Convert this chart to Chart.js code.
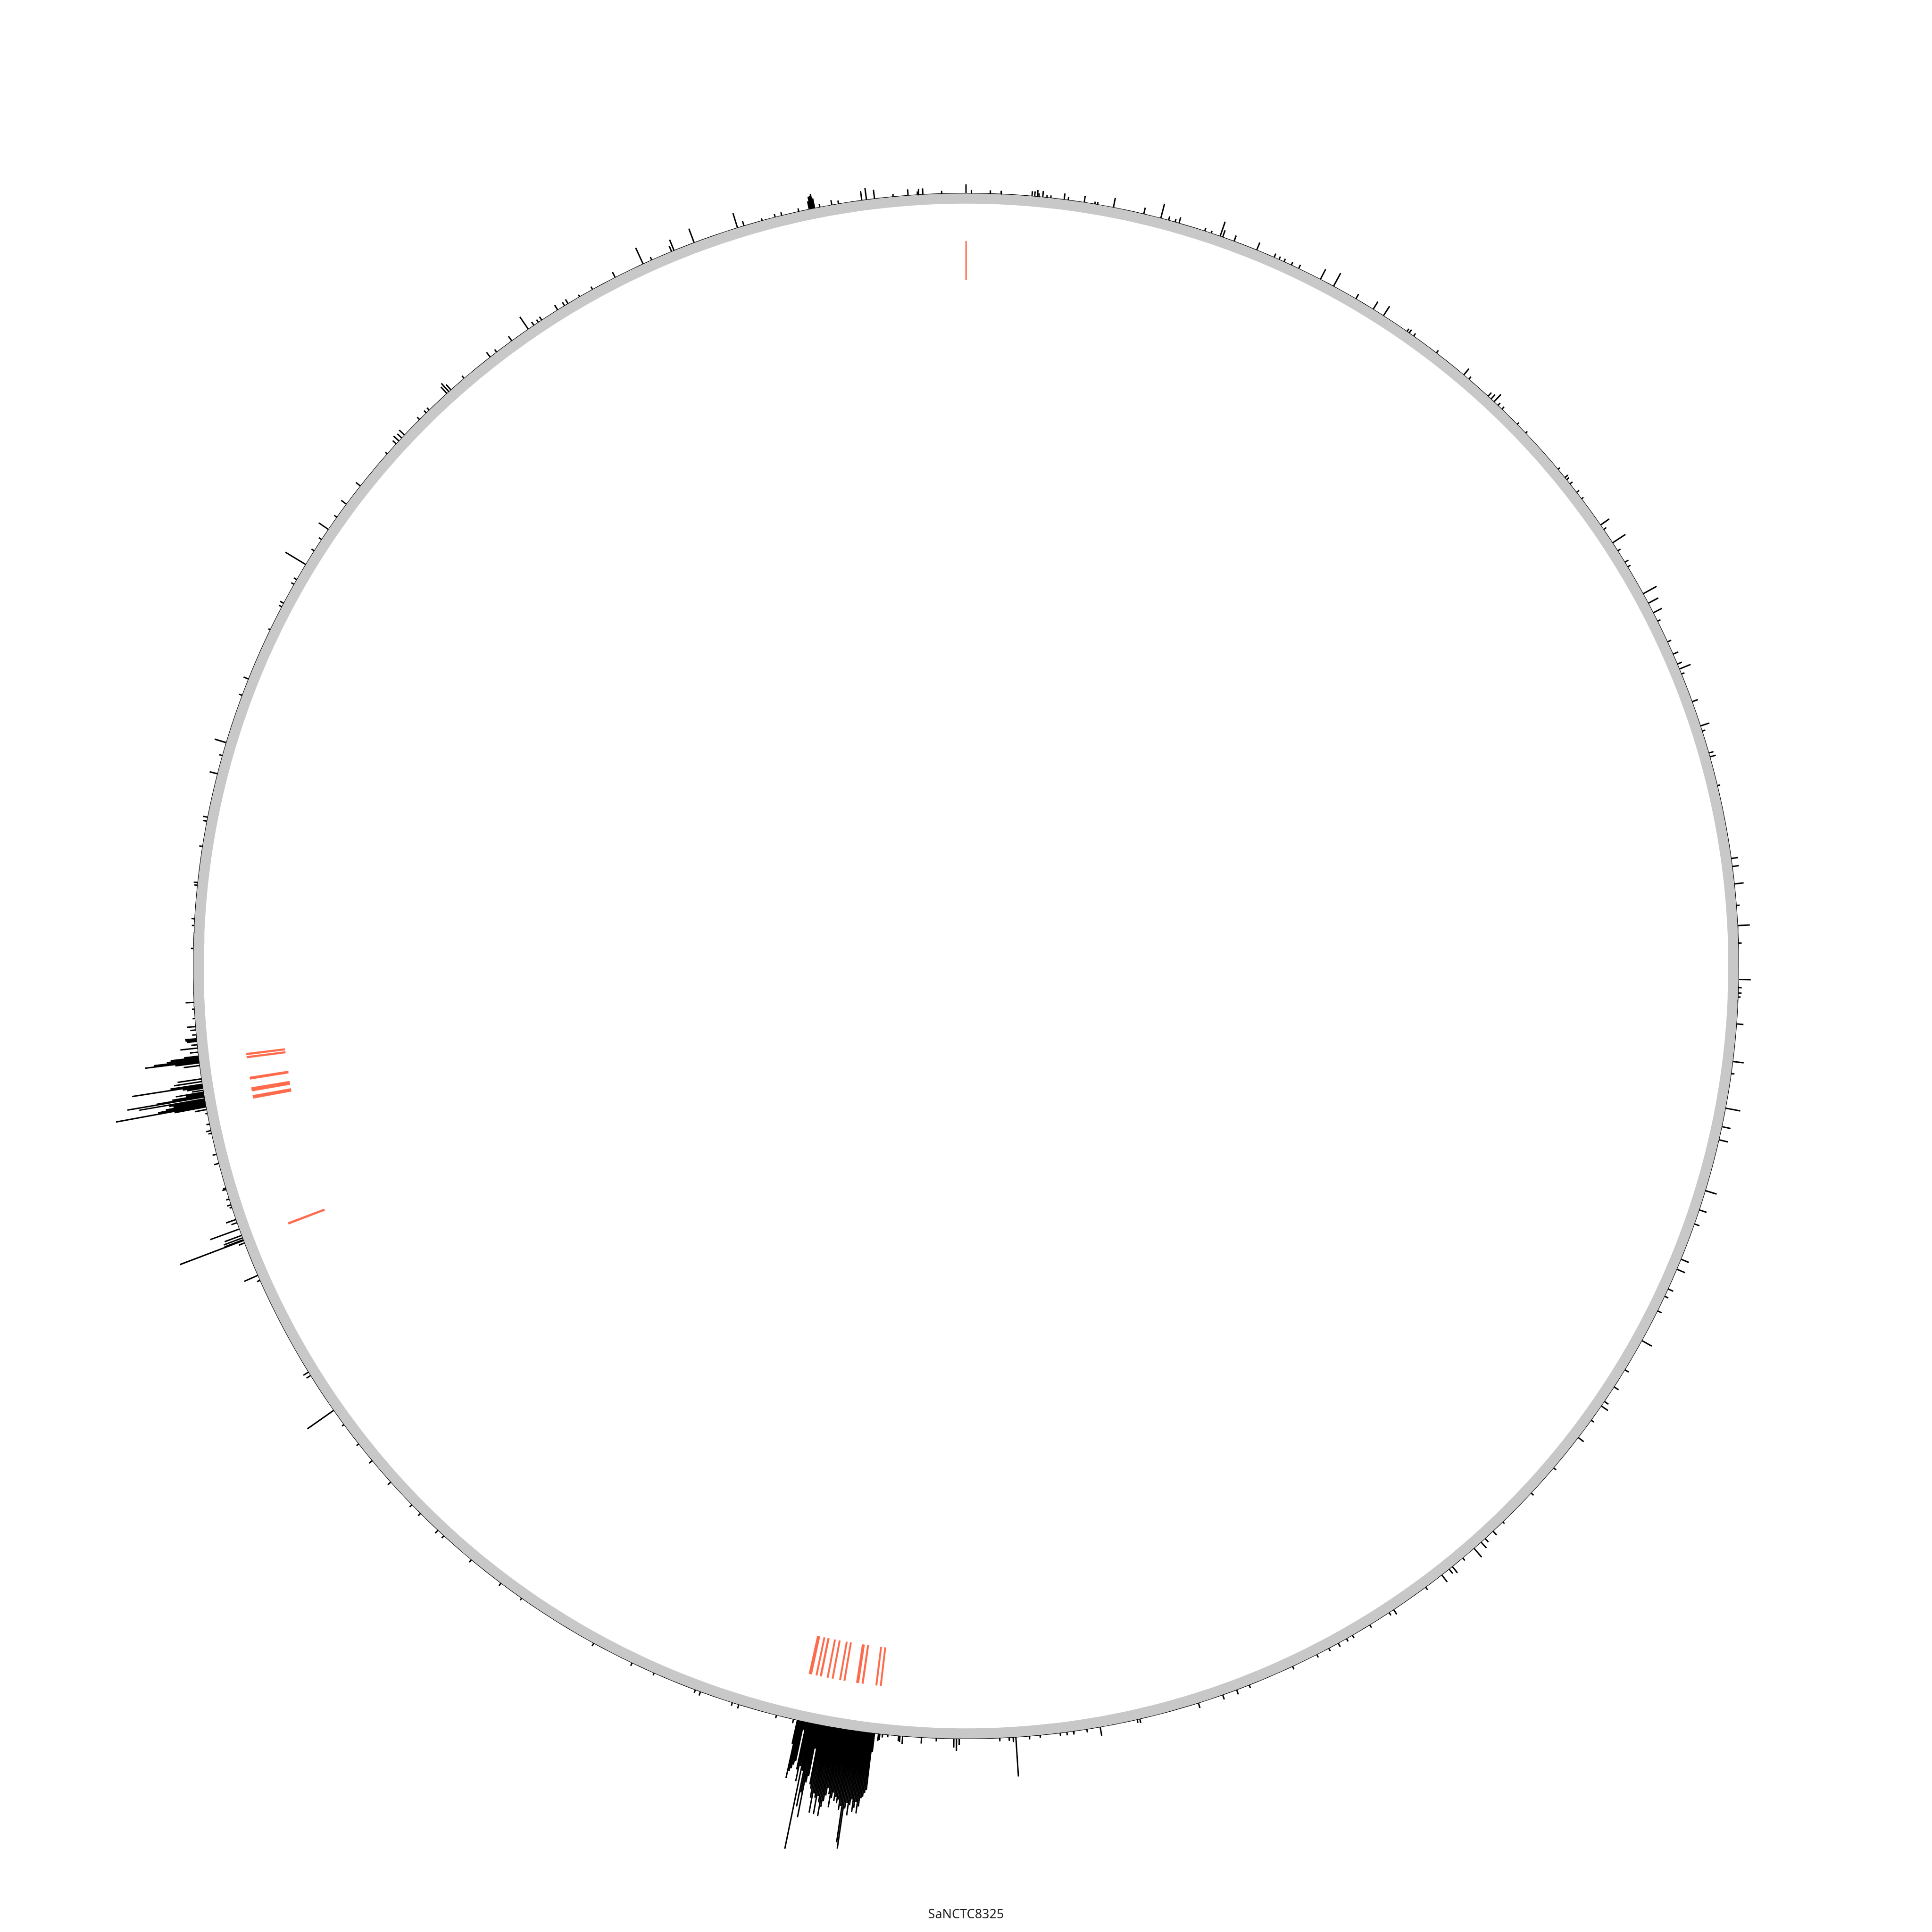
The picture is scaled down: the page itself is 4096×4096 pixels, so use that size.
<!DOCTYPE html>
<html>
<head>
<meta charset="utf-8">
<script src="https://cdn.jsdelivr.net/npm/chart.js@4.4.1/dist/chart.umd.min.js"></script>
<style>
  html, body { margin: 0; padding: 0; background: #ffffff; }
  #c { display: block; }
</style>
</head>
<body>
<canvas id="c" width="4096" height="4096"></canvas>
<script>
// ---------------- DATA ----------------
const CHROMOSOME = 'SaNCTC8325';

// Signal track (outer histogram): position on the circular map (degrees, clockwise from top) and value
const SIG_A_POS = [0.0, 0.4, 1.8, 2.6, 4.9, 5.1, 5.3, 5.4, 5.7, 6.0, 6.3, 7.3, 7.6, 8.8, 9.6, 9.8, 11.0, 13.3, 14.6, 15.2, 15.7, 16.0, 18.0, 18.5, 19.2, 19.4, 20.3, 22.1, 23.5, 23.9, 24.3, 24.9, 25.5, 27.3, 28.4, 30.3, 31.8, 32.7, 34.8, 35.0, 35.4, 37.5, 40.1, 40.6, 42.5, 42.8, 43.1, 43.5, 43.9, 45.5, 46.4, 50.0, 50.8, 51.0, 51.4, 52.2, 52.8, 55.2, 55.6, 56.8, 57.5, 58.5, 58.9, 61.2, 62.0];
const SIG_A_VAL = [22, 8, 8, 8, 12, 12, 16, 8, 15, 6, 6, 15, 8, 16, 6, 6, 24, 16, 37, 10, 8, 15, 8, 6, 38, 18, 15, 20, 10, 8, 8, 8, 10, 28, 37, 13, 22, 28, 8, 10, 8, 8, 20, 8, 12, 15, 25, 8, 8, 6, 6, 6, 10, 8, 8, 8, 6, 26, 8, 38, 8, 10, 8, 38, 28];

const SIG_B_POS = [62.8, 63.5, 65.2, 66.2, 67.0, 67.4, 67.8, 70.0, 71.9, 72.3, 74.0, 74.3, 76.5, 82.0, 82.6, 83.9, 85.5, 87.0, 88.3, 91.0, 91.6, 92.0, 92.3, 94.3, 97.1, 98.0, 100.6, 102.0, 103.0, 106.9, 108.4, 109.5, 112.3, 113.1, 114.7, 115.3, 116.5, 119.0, 121.5, 123.0, 124.3, 124.7, 126.0, 127.6];
const SIG_B_VAL = [24, 8, 10, 14, 12, 30, 8, 15, 23, 8, 12, 15, 7, 17, 16, 23, 8, 30, 8, 30, 8, 8, 6, 17, 27, 8, 37, 22, 23, 29, 19, 13, 21, 22, 14, 10, 11, 28, 11, 13, 12, 20, 8, 17];

const SIG_C_POS = [130.5, 133.0, 136.0, 137.0, 137.8, 138.2, 138.9, 140.0, 141.0, 141.3, 142.0, 143.5, 146.4, 146.8, 148.5, 150.0, 150.5, 151.2, 152.0, 153.0, 155.0, 158.5, 159.5, 160.6, 162.5, 167.0, 167.2, 170.0, 171.0, 172.0, 172.5, 173.0, 174.5, 175.3, 176.3, 176.5, 176.8, 177.5, 180.5, 180.7, 180.9, 182.2, 183.3, 184.7, 184.9, 185.0, 185.8, 186.2, 186.4, 186.5];
const SIG_C_VAL = [8, 8, 6, 13, 12, 20, 29, 8, 20, 14, 22, 8, 14, 8, 8, 8, 8, 10, 8, 8, 8, 8, 12, 12, 13, 10, 8, 22, 8, 8, 8, 8, 6, 8, 98, 12, 8, 8, 15, 30, 22, 8, 15, 20, 15, 13, 6, 8, 15, 18];

const SIG_D_POS = [186.8, 186.9, 187.0, 187.1, 187.2, 187.3, 187.4, 187.5, 187.6, 187.7, 187.8, 187.9, 188.0, 188.1, 188.2, 188.3, 188.4, 188.5, 188.6, 188.7, 188.8, 188.9, 189.0, 189.1, 189.2, 189.3, 189.4, 189.5, 189.6, 189.7, 189.8, 189.9, 190.0, 190.1, 190.2, 190.3, 190.4, 190.5, 190.6, 190.7, 190.8, 190.9, 191.0, 191.1, 191.2, 191.3, 191.4, 191.5, 191.6, 191.7, 191.8, 191.9, 192.0, 192.1, 192.2, 192.3, 192.4, 192.5, 192.6];
const SIG_D_VAL = [47, 142, 150, 160, 164, 185, 203, 175, 190, 201, 170, 185, 211, 180, 195, 296, 281, 190, 201, 175, 185, 170, 180, 160, 174, 198, 165, 150, 170, 185, 200, 224, 190, 175, 221, 180, 170, 219, 182, 160, 150, 60, 130, 147, 236, 174, 210, 120, 319, 110, 149, 120, 20, 100, 110, 120, 128, 146, 60];

const SIG_E_POS = [192.9, 194.2, 197.1, 197.6, 200.1, 200.5, 203.8, 205.6, 208.8, 215.1, 217.0, 219.8, 222.5, 223.1, 224.9, 225.8, 228.1, 230.2, 231.8, 233.6, 234.9, 238.0, 238.3, 246.0, 246.4];
const SIG_E_VAL = [10, 8, 10, 8, 10, 8, 6, 8, 8, 6, 8, 8, 8, 10, 8, 8, 10, 10, 7, 6, 80, 12, 15, 8, 37];

const SIG_F_POS = [249.0, 249.2, 249.25, 249.4, 249.6, 250.1, 250.6, 250.85, 251.8, 252.0, 252.45, 253.2, 253.3, 255.2, 255.9, 257.5, 257.7, 258.2, 259.0, 259.3, 259.5, 259.6, 259.7, 259.8, 259.9, 260.0, 260.1, 260.25, 260.3, 260.4, 260.5, 260.6, 260.75, 260.9, 261.0, 261.1, 261.2, 261.4, 261.6, 262.6, 262.8, 262.9, 263.0, 263.1, 263.2, 263.3, 263.6, 263.9, 264.15, 264.4, 264.5, 264.6, 264.9, 265.25, 265.5, 266.1, 266.8, 267.3];
const SIG_F_VAL = [15, 169, 50, 50, 45, 77, 15, 26, 6, 10, 8, 10, 7, 12, 10, 8, 12, 8, 5, 30, 80, 227, 120, 100, 80, 90, 165, 194, 120, 80, 45, 70, 28, 40, 50, 177, 80, 70, 60, 40, 60, 135, 113, 80, 70, 36, 20, 43, 15, 25, 28, 29, 10, 14, 22, 6, 6, 21];

const SIG_G_POS = [271.3, 273.0, 273.5, 276.0, 276.2, 278.9, 280.8, 281.1, 284.4, 285.8, 286.8, 290.5, 291.8, 295.8, 297.7, 298.0, 299.6, 300.0, 301.3, 302.5, 303.5, 304.4, 305.5, 306.7, 308.4, 311.5, 312.5, 312.8, 313.1, 313.4, 315.0, 315.7, 316.0, 317.8, 318.0, 318.2, 319.5, 322.0, 322.6, 324.0, 325.5, 326.0, 326.4, 326.7, 328.1, 328.7, 329.0, 330.0, 331.1, 333.0, 335.3, 336.0, 337.6, 337.8, 339.4, 342.8, 343.3, 344.7, 345.7, 346.2, 347.5, 348.3, 348.4, 348.5, 348.6, 348.7, 349.1, 350.0, 350.5, 352.25, 352.6, 353.2, 354.6, 355.7, 356.4, 356.5, 356.8, 358.2];
const SIG_G_VAL = [6, 6, 8, 8, 10, 8, 10, 12, 20, 8, 30, 8, 13, 5, 8, 10, 8, 8, 59, 8, 8, 29, 8, 16, 14, 6, 12, 18, 15, 18, 8, 8, 8, 22, 28, 18, 8, 15, 8, 14, 37, 10, 8, 10, 14, 10, 12, 6, 8, 15, 44, 8, 15, 29, 37, 38, 12, 6, 8, 8, 8, 20, 31, 33, 37, 25, 8, 12, 8, 23, 29, 22, 7, 15, 8, 14, 15, 7];

// Feature track (inner red marks): start / end on the circular map (degrees)
const FEATURE_START = [359.96, 259.47, 260.05, 261.00, 262.70, 262.95, 249.12, 192.28, 191.84, 191.48, 190.94, 190.54, 189.94, 189.59, 188.49, 188.13, 187.04, 186.69];
const FEATURE_END   = [360.04, 259.73, 260.35, 261.20, 262.85, 263.10, 249.28, 192.52, 191.97, 191.63, 191.07, 190.67, 190.07, 189.72, 188.71, 188.27, 187.17, 186.82];

// ---------------- LAYOUT / STYLE ----------------
const S = 4096 / 4800;                 // reference px -> page px
const HALF = 2400;                     // half-size of the map in reference px
const R_BASE = 1920;                   // baseline of the signal track
const RING_OUT = 1919, RING_IN = 1894; // grey ideogram ring
const FEAT_IN = 1705, FEAT_OUT = 1801; // feature track radii
const VALUE_TO_R = 1;                  // signal value -> radial length (reference px)
const TITLE_SIZE = 27, TITLE_LH = 1.2, TITLE_PAD_BOTTOM = 20;
const TITLE_BLOCK = TITLE_SIZE * TITLE_LH + TITLE_PAD_BOTTOM;
const Y_MIN = HALF - (4096 - TITLE_BLOCK) / S;

function polar(deg, r) {
  const a = deg * Math.PI / 180;
  return { x: r * Math.sin(a), y: r * Math.cos(a) };
}

const sigPos = [].concat(SIG_A_POS, SIG_B_POS, SIG_C_POS, SIG_D_POS, SIG_E_POS, SIG_F_POS, SIG_G_POS);
const sigVal = [].concat(SIG_A_VAL, SIG_B_VAL, SIG_C_VAL, SIG_D_VAL, SIG_E_VAL, SIG_F_VAL, SIG_G_VAL);

const spikeData = [];
for (let i = 0; i < sigPos.length; i++) {
  spikeData.push(polar(sigPos[i], R_BASE));
  spikeData.push(polar(sigPos[i], R_BASE + sigVal[i] * VALUE_TO_R));
  spikeData.push({ x: 0, y: null });
}

const ringData = [], baseData = [];
for (let d = 0; d <= 360; d += 0.5) {
  ringData.push(polar(d, (RING_OUT + RING_IN) / 2));
  baseData.push(polar(d, R_BASE));
}

const datasets = [];
datasets.push({
  label: 'signal', data: spikeData, showLine: true, spanGaps: false,
  borderColor: '#000000', borderWidth: 3.5 * S, borderCapStyle: 'butt',
  pointRadius: 0, fill: false, order: 1
});
datasets.push({
  label: 'baseline', data: baseData, showLine: true,
  borderColor: '#000000', borderWidth: 1.4 * S, pointRadius: 0, fill: false, order: 2
});
datasets.push({
  label: 'ring', data: ringData, showLine: true,
  borderColor: '#c8c8c8', borderWidth: (RING_OUT - RING_IN) * S, pointRadius: 0, fill: false, order: 3
});
for (let i = 0; i < FEATURE_START.length; i++) {
  const s = FEATURE_START[i], e = FEATURE_END[i];
  datasets.push({
    label: 'feature ' + (i + 1),
    data: [polar(s, FEAT_IN), polar(s, FEAT_OUT), polar(e, FEAT_OUT), polar(e, FEAT_IN), polar(s, FEAT_IN)],
    showLine: true, pointRadius: 0, tension: 0,
    borderColor: '#fd6a4c', borderWidth: 0.6, backgroundColor: '#fd6a4c',
    fill: 'shape', order: 0
  });
}

new Chart(document.getElementById('c'), {
  type: 'scatter',
  data: { datasets },
  options: {
    responsive: false,
    devicePixelRatio: 1,
    animation: false,
    events: [],
    layout: { padding: 0 },
    scales: {
      x: { type: 'linear', min: -HALF, max: HALF, display: false, bounds: 'data' },
      y: { type: 'linear', min: Y_MIN, max: HALF, display: false, bounds: 'data' }
    },
    plugins: {
      legend: { display: false },
      tooltip: { enabled: false },
      title: {
        display: true, text: CHROMOSOME, position: 'bottom',
        color: '#222222',
        font: { family: '"Noto Sans", "Open Sans", sans-serif', size: TITLE_SIZE, weight: 'normal', lineHeight: TITLE_LH },
        padding: { top: 0, bottom: TITLE_PAD_BOTTOM }
      }
    }
  }
});
</script>
</body>
</html>
